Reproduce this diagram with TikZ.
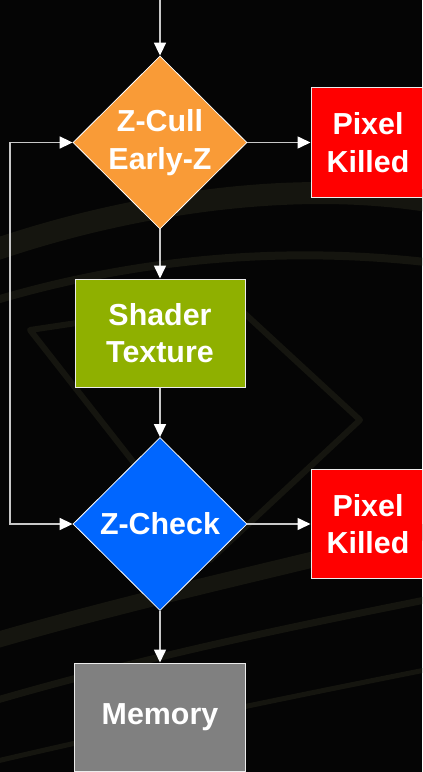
\documentclass[tikz,border=0pt]{standalone}
\usepackage{fontspec}
\setmainfont{Liberation Sans}
\usetikzlibrary{shapes.geometric,arrows.meta}

\definecolor{bgdark}{HTML}{050505}
\definecolor{swirl}{HTML}{15150F}
\definecolor{zcullorange}{HTML}{F99B37}
\definecolor{shadergreen}{HTML}{8FB000}
\definecolor{checkblue}{HTML}{0066FF}
\definecolor{killred}{HTML}{FF0000}
\definecolor{memgray}{HTML}{808080}
\definecolor{wire}{HTML}{C8C8C8}

\tikzset{
  label text/.style={text=white, font=\fontsize{30.5}{37.5}\selectfont\bfseries, align=center},
  decision/.style={label text, shape=diamond, aspect=1, inner sep=0pt,
    minimum width=174bp, minimum height=173bp, draw=white, line width=0.8bp},
  stagebox/.style={label text, shape=rectangle, inner sep=0pt,
    draw=white!85!gray, line width=1bp},
  killbox/.style={stagebox, fill=killred, minimum width=114bp, minimum height=109bp},
  flow/.style={draw=wire, line width=1.6bp,
    -{Triangle[length=13bp,width=12bp,fill=white,color=white]}},
  loopflow/.style={draw=wire, line width=1.6bp,
    {Triangle[length=13bp,width=12bp,fill=white,color=white]}-{Triangle[length=13bp,width=12bp,fill=white,color=white]}},
  swirlband/.style={draw=swirl, line cap=round}
}

\begin{document}
\begin{tikzpicture}[x=1bp,y=-1bp]
  % canvas
  \clip (0,0) rectangle (422,772);
  \fill[bgdark] (0,0) rectangle (422,772);

  % faint swirling backdrop
  \draw[swirlband, line width=22bp] (-20,255) .. controls (120,205) and (300,175) .. (450,205);
  \draw[swirlband, line width=8bp] (-20,305) .. controls (140,255) and (300,245) .. (450,265);
  \draw[swirlband, line width=6bp, line join=round] (30,330) -- (210,560) -- (360,420) -- (230,300) -- cycle;
  \draw[swirlband, line width=16bp] (-20,645) .. controls (150,595) and (300,565) .. (450,525);
  \draw[swirlband, line width=7bp] (-20,705) .. controls (150,655) and (300,625) .. (450,595);
  \draw[swirlband, line width=5bp] (-20,765) .. controls (150,725) and (300,695) .. (450,665);

  % stages
  \node[decision, fill=zcullorange] (zcull)  at (160,142.5) {Z-Cull\\Early-Z};
  \node[killbox] (kill1) at (368,142.5) {Pixel\\Killed};
  \node[stagebox, fill=shadergreen, minimum width=170bp, minimum height=108bp]
    (shader) at (160,333) {Shader\\Texture};
  \node[decision, fill=checkblue] (zcheck) at (160,524) {Z-Check};
  \node[killbox] (kill2) at (368,524) {Pixel\\Killed};
  \node[stagebox, fill=memgray, minimum width=171bp, minimum height=108bp]
    (mem) at (160,717) {Memory};

  % entry and loop-back corners
  \coordinate (entry) at (160,0);
  \coordinate (looptop) at (10,142.5);
  \coordinate (loopbot) at (10,524);

  % connectors
  \draw[flow] (entry) -- (zcull.north);
  \draw[flow] (zcull.east) -- (kill1.west);
  \draw[flow] (zcull.south) -- (shader.north);
  \draw[flow] (shader.south) -- (zcheck.north);
  \draw[flow] (zcheck.east) -- (kill2.west);
  \draw[flow] (zcheck.south) -- (mem.north);
  \draw[loopflow] (zcull.west) -- (looptop) -- (loopbot) -- (zcheck.west);
\end{tikzpicture}
\end{document}
